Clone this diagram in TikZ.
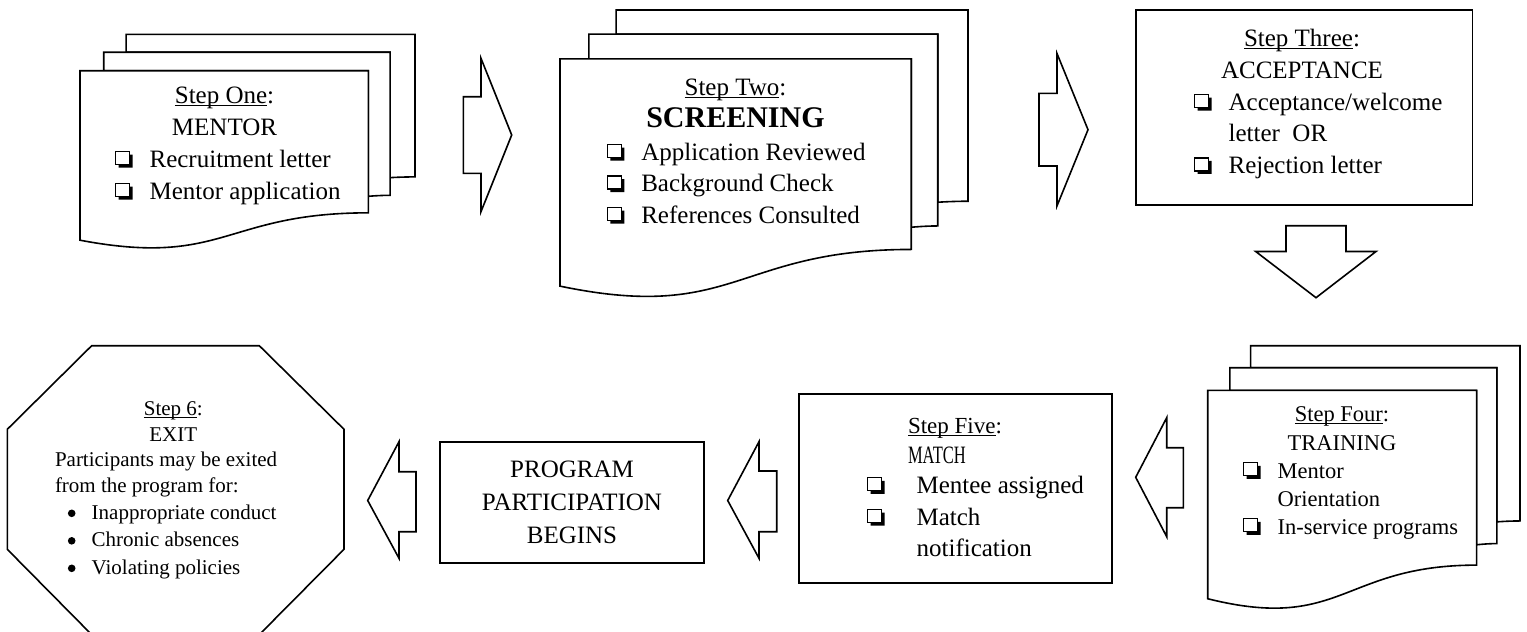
\documentclass[tikz,border=0pt]{standalone}
\usepackage{graphicx}
\usepackage{fontspec}
\setmainfont{Liberation Serif}
\newcommand{\cbx}{\tikz[x=1pt,y=1pt,baseline=0pt]{\fill (3,-0.5) -- (17,-0.5) -- (17,12.5) -- (14,12.5) -- (14,2.5) -- (3,2.5) -- cycle; \draw[line width=1.2pt] (0,2.5) rectangle (14,15.5);}}
\newcommand{\bul}{\tikz[x=1pt,y=1pt,baseline=0pt]{\fill (3.8,5.7) circle (3.8);}}
\newcommand{\ul}[1]{\setbox0\hbox{#1}\rlap{\rule[-2.6pt]{\wd0}{1.1pt}}\box0}
% multidocument: x0 y0 w h
\newcommand{\mdoc}[4]{%
 \draw[shp] ({#1+0.1376*#3},{#2+0.0840*#4}) -- ({#1+0.1376*#3},{#2}) -- ({#1+#3},{#2}) -- ({#1+#3},{#2+0.6663*#4}) .. controls ({#1+0.963*#3},{#2+0.6663*#4}) and ({#1+0.9259*#3},{#2+0.6698*#4}) .. ({#1+0.9259*#3},{#2+0.6698*#4}) -- ({#1+0.9259*#3},{#2+0.0840*#4}) -- cycle;
 \draw[shp] ({#1+0.0709*#3},{#2+0.1701*#4}) -- ({#1+0.0709*#3},{#2+0.0840*#4}) -- ({#1+0.9259*#3},{#2+0.0840*#4}) -- ({#1+0.9259*#3},{#2+0.7524*#4}) .. controls ({#1+0.894*#3},{#2+0.7524*#4}) and ({#1+0.8609*#3},{#2+0.757*#4}) .. ({#1+0.8609*#3},{#2+0.757*#4}) -- ({#1+0.8609*#3},{#2+0.1701*#4}) -- cycle;
 \draw[shp] ({#1},{#2+0.1701*#4}) -- ({#1+0.8609*#3},{#2+0.1701*#4}) -- ({#1+0.8609*#3},{#2+0.8343*#4}) .. controls ({#1+0.4305*#3},{#2+0.8343*#4}) and ({#1+0.4305*#3},{#2+1.0899*#4}) .. ({#1},{#2+0.9621*#4}) -- cycle;
}
\begin{document}
\begin{tikzpicture}[x=1pt,y=-1pt,
  shp/.style={draw,line width=1.6pt,fill=white,line join=miter},
  lbl/.style={inner sep=0pt,outer sep=0pt},
  big/.style={font=\fontsize{25}{32}\selectfont}]
\useasboundingbox (0,0) rectangle (1527,632);

% ---------- shapes ----------
\mdoc{80}{34.3}{335}{214}
\mdoc{560}{10}{408}{287}
\mdoc{1207.7}{345.7}{312.3}{263}
\draw[shp] (1135.7,10) rectangle (1472.3,205);
\draw[shp] (799,394) rectangle (1111.7,583);
\draw[shp] (440,441.7) rectangle (704,562.7);
\draw[shp] (91.7,345.7) -- (259.3,345.7) -- (344,429.3) -- (344,549.3) -- (258,636) -- (93,636) -- (7.3,549.3) -- (7.3,429.3) -- cycle;

% ---------- block arrows ----------
\draw[shp] (463.3,96.7) -- (481,96.7) -- (481,58.3) -- (511.7,135) -- (481,211.7) -- (481,173.3) -- (463.3,173.3) -- cycle;
\draw[shp] (1039,93.3) -- (1057,93.3) -- (1057,53.5) -- (1088,129.7) -- (1057,205.9) -- (1057,166) -- (1039,166) -- cycle;
\draw[shp] (1286,225.7) -- (1346,225.7) -- (1346,251.5) -- (1376,251.5) -- (1316,297.7) -- (1255.7,251.5) -- (1286,251.5) -- cycle;
\draw[shp] (1183.3,447.7) -- (1166.7,447.7) -- (1166.7,417.7) -- (1135.7,477.3) -- (1166.7,536.7) -- (1166.7,507.7) -- (1183.3,507.7) -- cycle;
\draw[shp] (776.7,471) -- (759,471) -- (759,441.7) -- (727.7,500.5) -- (759,558.3) -- (759,531.7) -- (776.7,531.7) -- cycle;
\draw[shp] (416,471.7) -- (399,471.7) -- (399,441.7) -- (367.7,500.5) -- (399,558.3) -- (399,531.7) -- (416,531.7) -- cycle;

% ---------- Step One ----------
\node[lbl,big,anchor=base] (s1t) at (224.5,103) {\begin{tabular}[t]{@{}c@{}}\ul{Step One}:\\MENTOR\end{tabular}};
\node[lbl,big,anchor=base west] (s1l) at (115,167) {\begin{tabular}[t]{@{}l@{\hspace{17pt}}l@{}}\cbx & Recruitment letter\\ \cbx & Mentor application\end{tabular}};

% ---------- Step Two ----------
\node[lbl,big,anchor=base] (s2t) at (735.5,95) {\begin{tabular}[t]{@{}c@{}}\ul{Step Two}:\\{\fontsize{30}{32}\selectfont\bfseries SCREENING}\end{tabular}};
\node[lbl,font=\fontsize{25}{31.5}\selectfont,anchor=base west] (s2l) at (606.7,160) {\begin{tabular}[t]{@{}l@{\hspace{17pt}}l@{}}\cbx & Application Reviewed\\ \cbx & Background Check\\ \cbx & References Consulted\end{tabular}};

% ---------- Step Three ----------
\node[lbl,big,anchor=base] (s3t) at (1302,46) {\begin{tabular}[t]{@{}c@{}}\ul{Step Three}:\\ACCEPTANCE\end{tabular}};
\node[lbl,font=\fontsize{25}{31.7}\selectfont,anchor=base west] (s3l) at (1194,110) {\begin{tabular}[t]{@{}l@{\hspace{17pt}}l@{}}\cbx & Acceptance/welcome\\ & letter\ \ OR\\ \cbx & Rejection letter\end{tabular}};

% ---------- Step Four ----------
\node[lbl,font=\fontsize{22.5}{29.7}\selectfont,anchor=base] (s4t) at (1342,421) {\begin{tabular}[t]{@{}c@{}}\ul{Step Four}:\\TRAINING\end{tabular}};
\node[lbl,font=\fontsize{22.5}{28}\selectfont,anchor=base west] (s4l) at (1243,478.3) {\begin{tabular}[t]{@{}l@{\hspace{17pt}}l@{}}\cbx & Mentor\\ & Orientation\\ \cbx & In-service programs\end{tabular}};

% ---------- Step Five ----------
\node[lbl,font=\fontsize{23}{30}\selectfont,anchor=base] (s5t) at (955,433) {\ul{Step Five}:};
\node[lbl,font=\fontsize{25}{30}\selectfont,anchor=base west] (s5m) at (908,463.3) {\scalebox{0.66}[1]{MATCH}};
\node[lbl,font=\fontsize{25}{31.7}\selectfont,anchor=base west] (s5l) at (867,493.3) {\begin{tabular}[t]{@{}l@{\hspace{32pt}}l@{}}\cbx & Mentee assigned\\ \cbx & Match\\ & notification\end{tabular}};

% ---------- Program participation ----------
\node[lbl,font=\fontsize{25}{33}\selectfont,anchor=base] (pp) at (572,477.3) {\begin{tabular}[t]{@{}c@{}}PROGRAM\\PARTICIPATION\\BEGINS\end{tabular}};

% ---------- Step 6 ----------
\node[lbl,font=\fontsize{21}{26.7}\selectfont,anchor=base] (s6t) at (173.3,415) {\begin{tabular}[t]{@{}c@{}}\ul{Step 6}:\\EXIT\end{tabular}};
\node[lbl,font=\fontsize{21}{26}\selectfont,anchor=base west] (s6p) at (55,466.7) {\begin{tabular}[t]{@{}l@{}}Participants may be exited\\from the program for:\end{tabular}};
\node[lbl,font=\fontsize{21}{27.5}\selectfont,anchor=base west] (s6l) at (67.9,519) {\begin{tabular}[t]{@{}l@{\hspace{16.2pt}}l@{}}\bul & Inappropriate conduct\\ \bul & Chronic absences\\ \bul & Violating policies\end{tabular}};
\end{tikzpicture}
\end{document}
